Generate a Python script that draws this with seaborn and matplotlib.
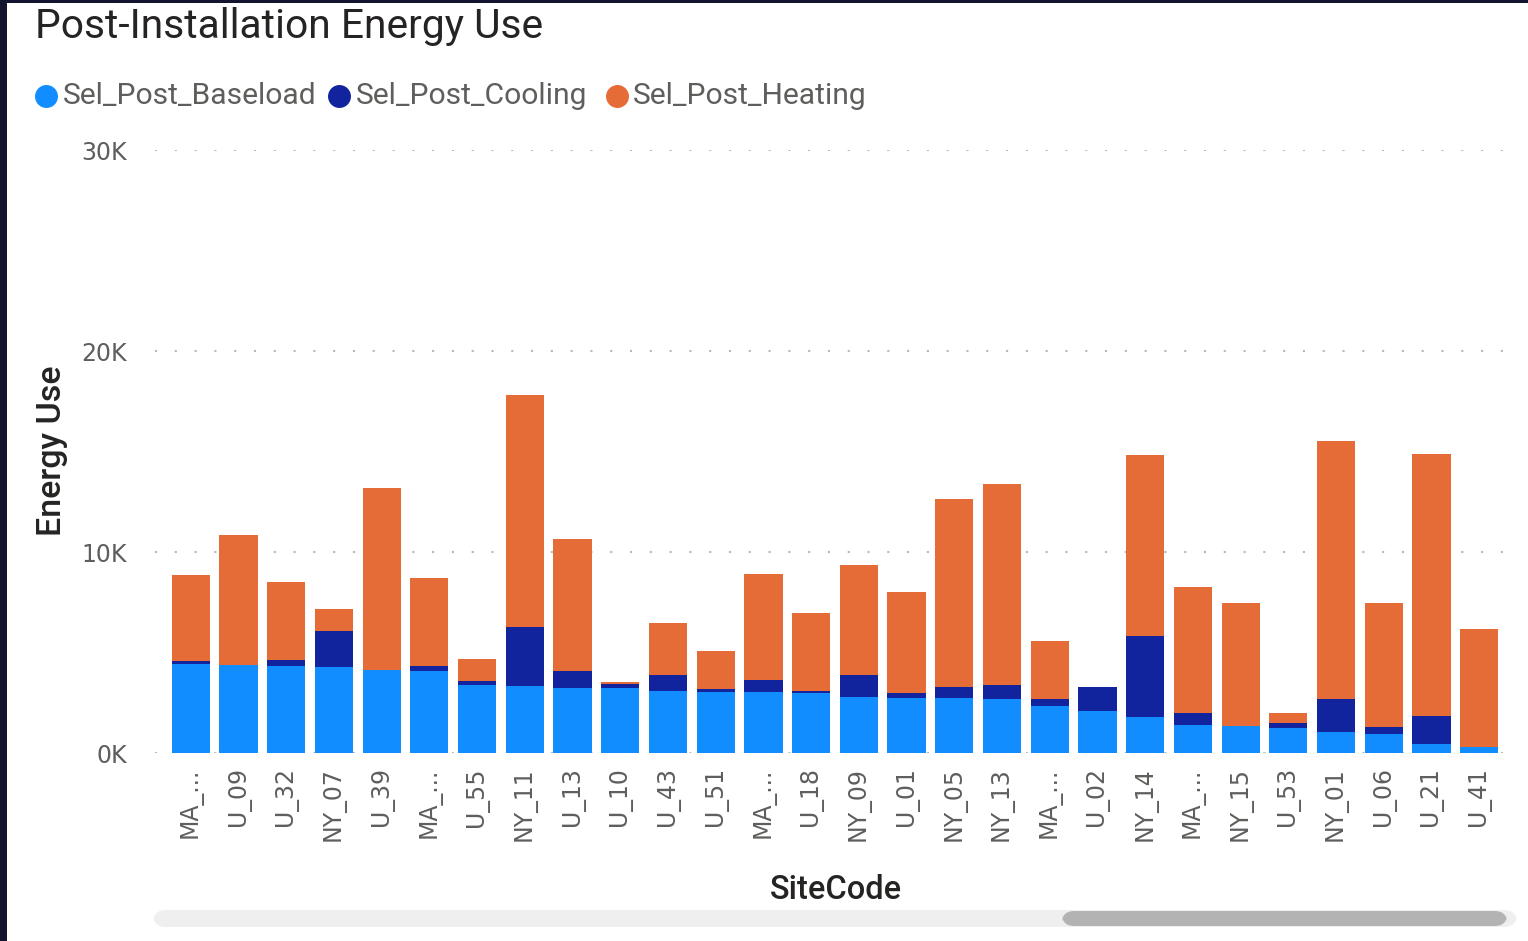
import numpy as np
import pandas as pd
import seaborn as sns
import matplotlib.pyplot as plt
from matplotlib.lines import Line2D
from matplotlib.patches import FancyBboxPatch, Rectangle
from matplotlib.ticker import FuncFormatter

# ---- data -------------------------------------------------------------
site_labels = ["MA_...", "U_09", "U_32", "NY_07", "U_39", "MA_...", "U_55",
               "NY_11", "U_13", "U_10", "U_43", "U_51", "MA_...", "U_18",
               "NY_09", "U_01", "NY_05", "NY_13", "MA_...", "U_02", "NY_14",
               "MA_...", "NY_15", "U_53", "NY_01", "U_06", "U_21", "U_41"]

sel_post_baseload = [4430, 4400, 4350, 4280, 4120, 4100, 3390, 3350, 3240,
                     3240, 3100, 3070, 3040, 2990, 2820, 2770, 2770, 2720,
                     2370, 2110, 1820, 1390, 1380, 1250, 1080, 980, 450, 310]
sel_post_cooling = [170, 0, 280, 1780, 0, 220, 200, 2940, 830, 200, 770, 130,
                    610, 100, 1080, 220, 530, 700, 320, 1180, 3990, 620, 0,
                    260, 1630, 330, 1390, 0]
sel_post_heating = [4250, 6480, 3870, 1100, 9060, 4400, 1090, 11550, 6590, 110,
                    2590, 1900, 5280, 3870, 5480, 5010, 9370, 9950, 2890, 0,
                    9040, 6280, 6070, 500, 12820, 6180, 13040, 5870]

series_names = ["Sel_Post_Baseload", "Sel_Post_Cooling", "Sel_Post_Heating"]
series_colors = ["#118DFF", "#12239E", "#E66C37"]

# ---- styling ----------------------------------------------------------
sns.set_theme(style="white")
plt.rcParams['font.family'] = ['DejaVu Sans']
title_family = ["Roboto", "DejaVu Sans"]

W, H = 1528, 941
fig = plt.figure(figsize=(W / 100, H / 100), dpi=100)
fig.patch.set_facecolor("white")

ax_left, ax_right, ax_top, ax_bottom = 155, 1515, 150, 753.3
ax = fig.add_axes([ax_left / W, 1 - ax_bottom / H,
                   (ax_right - ax_left) / W, (ax_bottom - ax_top) / H])
ax.set_facecolor("white")

n = len(site_labels)
df = pd.DataFrame({
    "slot": np.arange(n),
    "baseload": sel_post_baseload,
    "cooling": sel_post_cooling,
    "heating": sel_post_heating,
})
df["base_cool"] = df["baseload"] + df["cooling"]
df["total"] = df["base_cool"] + df["heating"]

# stacked bars: draw cumulative totals from the top segment downwards
for col, color in [("total", series_colors[2]),
                   ("base_cool", series_colors[1]),
                   ("baseload", series_colors[0])]:
    sns.barplot(data=df, x="slot", y=col, color=color, saturation=1,
                width=0.8, errorbar=None, linewidth=0, ax=ax)

ax.set_xlim(-0.75, n - 0.25)
ax.set_ylim(0, 30000)

# dotted horizontal gridlines
ax.set_yticks([0, 10000, 20000, 30000])
ax.yaxis.set_major_formatter(FuncFormatter(lambda v, p: f"{int(v / 1000)}K"))
ax.yaxis.grid(True, color="#B8B8B8", linestyle=(0, (1, 8.5)), linewidth=1.5)
ax.xaxis.grid(False)
ax.set_axisbelow(True)
for s in ax.spines.values():
    s.set_visible(False)

ax.tick_params(axis="y", length=0, pad=20, labelsize=17, labelcolor="#605E5C")
ax.set_xticks(np.arange(n))
ax.set_xticklabels(site_labels, rotation=90)
ax.tick_params(axis="x", length=0, pad=10, labelsize=17, labelcolor="#605E5C")

ax.set_xlabel("SiteCode", fontsize=23.5, color="#252423", family=title_family,
              fontweight="medium")
ax.set_ylabel("Energy Use", fontsize=24.5, color="#252423", family=title_family,
              fontweight="medium")
ax.xaxis.set_label_coords((836 - ax_left) / (ax_right - ax_left),
                          (ax_bottom - 890) / (ax_bottom - ax_top))
ax.xaxis.label.set_va("center")
ax.yaxis.set_label_coords((52 - ax_left) / (ax_right - ax_left),
                          (ax_bottom - 451) / (ax_bottom - ax_top))
ax.yaxis.label.set_va("center")

# ---- title ------------------------------------------------------------
fig.text(35 / W, 1 - 27 / H, "Post-Installation Energy Use", fontsize=29.3,
         color="#252423", va="center", ha="left", family=title_family)

# ---- legend -----------------------------------------------------------
legend_y = 1 - 96 / H
for cx, tx, name, color in zip([46, 339, 617], [63, 356, 633],
                               series_names, series_colors):
    fig.add_artist(Line2D([cx / W], [legend_y], marker="o", markersize=15.5,
                          color=color, linestyle="none",
                          transform=fig.transFigure))
    fig.text(tx / W, legend_y, name, fontsize=21.6, color="#605E5C",
             va="center", ha="left", family=title_family)

# ---- horizontal scrollbar ---------------------------------------------
def fig_box(x0, y0, x1, y1, color, r):
    fig.add_artist(FancyBboxPatch((x0 / W, 1 - y1 / H), (x1 - x0) / W, (y1 - y0) / H,
                                  boxstyle=f"round,pad=0,rounding_size={r / H}",
                                  transform=fig.transFigure, facecolor=color,
                                  edgecolor="none", mutation_aspect=W / H))

fig_box(153, 910, 1517, 927, "#EFEFEF", 8)
fig_box(1062, 911, 1507, 926, "#B3B3B3", 7.5)

# ---- dark frame edges -------------------------------------------------
fig.add_artist(Rectangle((0, 0), 7 / W, 1, transform=fig.transFigure,
                         facecolor="#131530", edgecolor="none"))
fig.add_artist(Rectangle((0, 1 - 3 / H), 1, 3 / H, transform=fig.transFigure,
                         facecolor="#131530", edgecolor="none"))

fig.savefig("out.png", dpi=100, facecolor="white")
